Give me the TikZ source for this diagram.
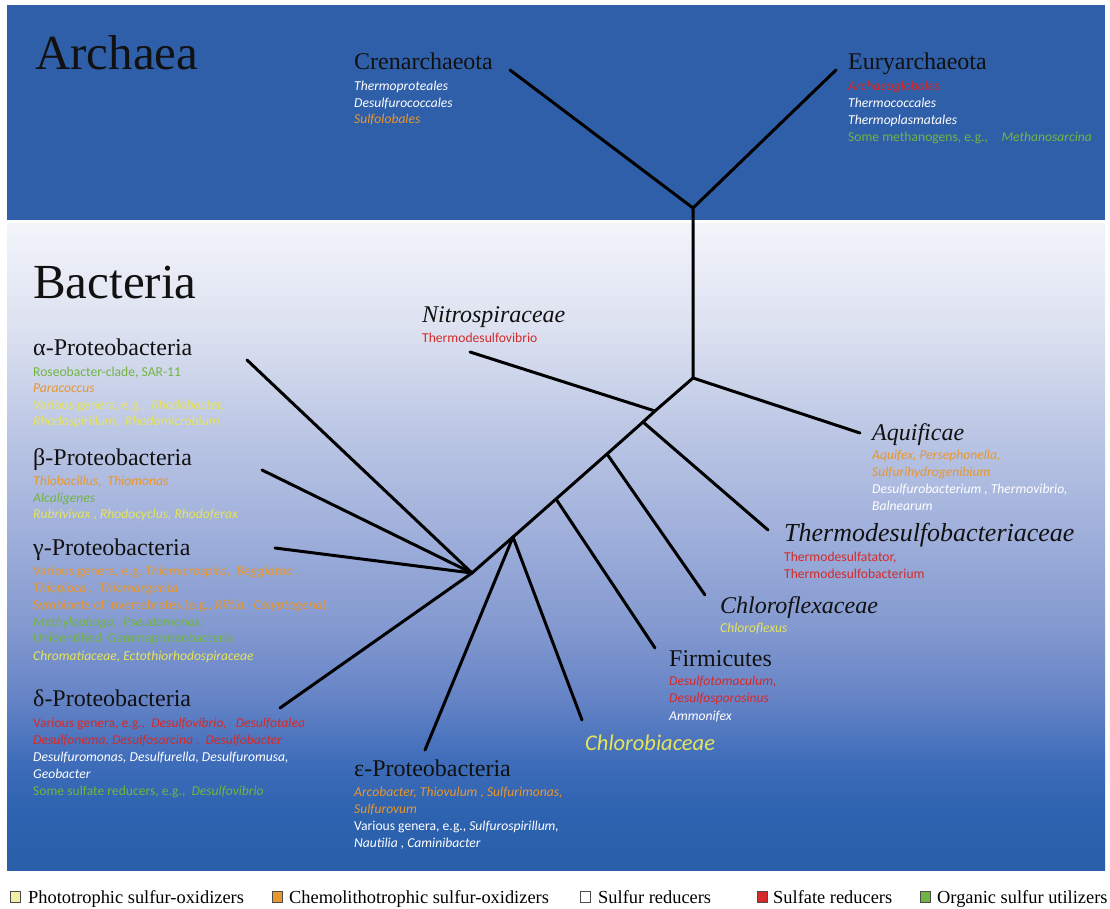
\documentclass[tikz,border=0pt]{standalone}
\usepackage{fontspec}
\setmainfont{Liberation Serif}
\newfontfamily\smallfam{Carlito}
\definecolor{archblue}{HTML}{2F5FA8}
\definecolor{cyel}{HTML}{E6E45A}
\definecolor{corg}{HTML}{E8962E}
\definecolor{cred}{HTML}{D42A2A}
\definecolor{cgrn}{HTML}{72B443}
\definecolor{cwht}{HTML}{FFFFFF}
\definecolor{headc}{HTML}{111111}
\definecolor{lyel}{HTML}{F2F0A0}
\definecolor{bgA}{HTML}{F2F4FA}
\definecolor{bgB}{HTML}{DCE1F0}
\definecolor{bgC}{HTML}{BCC7E5}
\definecolor{bgD}{HTML}{A0B0DB}
\definecolor{bgE}{HTML}{8298CF}
\definecolor{bgF}{HTML}{6483C6}
\definecolor{bgG}{HTML}{3F6DBA}
\definecolor{bgH}{HTML}{2D63B0}
\definecolor{bgI}{HTML}{2A5EA9}
\newcommand\hfont{\fontsize{24}{28}\selectfont}
\newcommand\bigfont{\fontsize{49}{56}\selectfont}
\newcommand\sfont{\smallfam\fontsize{13.6}{15}\selectfont}
\newcommand\legfont{\fontsize{18.4}{20}\selectfont}
\tikzset{
  head/.style={anchor=base west, font=\hfont, text=headc, inner sep=0pt},
  headit/.style={head, font=\hfont\itshape},
  big/.style={anchor=base west, font=\bigfont, text=headc, inner sep=0pt},
  sm/.style={anchor=base west, font=\sfont, inner sep=0pt},
  branch/.style={line width=3pt, line cap=round, line join=round, black},
  legbox/.style={draw=black!70, line width=0.8pt, minimum width=10pt, minimum height=11pt, inner sep=0pt, anchor=south west},
  legtext/.style={anchor=base west, font=\legfont, text=black, inner sep=0pt}
}
\begin{document}
\begin{tikzpicture}[x=1pt,y=-1pt]
\useasboundingbox (0,0) rectangle (1110,909);
\fill[white] (0,0) rectangle (1110,909);
% backgrounds
\fill[archblue] (7,5) rectangle (1105,220);
\fill[top color=bgA, bottom color=bgB] (7,224) rectangle (1105,330.5);
\fill[top color=bgB, bottom color=bgC] (7,330) rectangle (1105,430.5);
\fill[top color=bgC, bottom color=bgD] (7,430) rectangle (1105,530.5);
\fill[top color=bgD, bottom color=bgE] (7,530) rectangle (1105,630.5);
\fill[top color=bgE, bottom color=bgF] (7,630) rectangle (1105,700.5);
\fill[top color=bgF, bottom color=bgG] (7,700) rectangle (1105,760.5);
\fill[top color=bgG, bottom color=bgH] (7,760) rectangle (1105,810.5);
\fill[top color=bgH, bottom color=bgI] (7,810) rectangle (1105,870);

% tree coordinates
\coordinate (rA) at (693,208);
\coordinate (crenT) at (510,70);
\coordinate (euryT) at (836,70);
\coordinate (bR) at (693,378);
\coordinate (aquiT) at (860,433);
\coordinate (n1) at (655,411);
\coordinate (nitroT) at (470,352);
\coordinate (n2) at (643,422);
\coordinate (thermoT) at (768,530);
\coordinate (n3) at (607,454);
\coordinate (cflexT) at (705,595);
\coordinate (n4) at (556,499);
\coordinate (firmT) at (655,648);
\coordinate (n5) at (513,537);
\coordinate (cbiT) at (582,720);
\coordinate (epsT) at (425,750);
\coordinate (hub) at (472,573);
\coordinate (alphaT) at (247,360);
\coordinate (betaT) at (262,470);
\coordinate (gammaT) at (275,548);
\coordinate (deltaT) at (280,708);

\draw[branch] (crenT) -- (rA) -- (euryT);
\draw[branch] (rA) -- (bR) -- (aquiT);
\draw[branch] (bR) -- (n1) -- (n2) -- (n3) -- (n4) -- (n5) -- (hub);
\draw[branch] (nitroT) -- (n1);
\draw[branch] (n2) -- (thermoT);
\draw[branch] (n3) -- (cflexT);
\draw[branch] (n4) -- (firmT);
\draw[branch] (n5) -- (cbiT);
\draw[branch] (n5) -- (epsT);
\draw[branch] (alphaT) -- (hub);
\draw[branch] (betaT) -- (hub);
\draw[branch] (gammaT) -- (hub);
\draw[branch] (deltaT) -- (hub);

% big titles
\node[big] (archaea) at (35,70) {Archaea};
\node[big] (bacteria) at (33,298) {Bacteria};

% Crenarchaeota
\node[head] (cren) at (354,70) {Crenarchaeota};
\node[sm, text=cwht] (cren1) at (354,91) {\itshape Thermoproteales};
\node[sm, text=cwht] (cren2) at (354,107.5) {\itshape Desulfurococcales};
\node[sm, text=corg] (cren3) at (354,124) {\itshape Sulfolobales};

% Euryarchaeota
\node[head] (eury) at (848,70) {Euryarchaeota};
\node[sm, text=cred] (eury1) at (848,90.5) {\itshape Archaeoglobales};
\node[sm, text=cwht] (eury2) at (848,107.5) {\itshape Thermococcales};
\node[sm, text=cwht] (eury3) at (848,124.5) {\itshape Thermoplasmatales};
\node[sm, text=cgrn] (eury4) at (848,141.5) {Some methanogens, e.g.,\quad\itshape Methanosarcina};

% alpha
\node[head] (alpha) at (33,355) {α-Proteobacteria};
\node[sm, text=cgrn] (alpha1) at (33,376) {Roseobacter-clade, SAR-11};
\node[sm, text=corg] (alpha2) at (33,392.5) {\itshape Paracoccus};
\node[sm, text=cyel] (alpha3) at (33,409) {Various genera, e.g.,\ \ \itshape Rhodobacter,};
\node[sm, text=cyel] (alpha4) at (33,425.5) {\itshape Rhodospirillum,\ \ Rhodomicrobium};

% beta
\node[head] (beta) at (33,465) {β-Proteobacteria};
\node[sm, text=corg] (beta1) at (33,485.5) {\itshape Thiobacillus,\ \ Thiomonas};
\node[sm, text=cgrn] (beta2) at (33,502) {\itshape Alcaligenes};
\node[sm, text=cyel] (beta3) at (33,518.5) {\itshape Rubrivivax\ ,\ Rhodocyclus,\ Rhodoferax};

% gamma
\node[head] (gamma) at (33,555) {γ-Proteobacteria};
\node[sm, text=corg] (gamma1) at (33,575.5) {Various genera, e.g.,\itshape Thiomicrospira,\ \ Beggiatoa\ ,};
\node[sm, text=corg] (gamma2) at (33,592.5) {\itshape Thioploca\ ,\ \ Thiomargarita};
\node[sm, text=corg] (gamma3) at (33,609) {Symbionts of invertebrates (e.g., \textit{Riftia,\ \ Calyptogena})};
\node[sm, text=cgrn] (gamma4) at (33,626) {\itshape Methylophaga,\ \ Pseudomonas,};
\node[sm, text=cgrn] (gamma5) at (33,642.5) {Unidentified\ \ Gammaproteobacteria};
\node[sm, text=cyel] (gamma6) at (33,660) {\itshape Chromatiaceae,\ Ectothiorhodospiraceae};

% delta
\node[head] (delta) at (33,706) {δ-Proteobacteria};
\node[sm, text=cred] (delta1) at (33,727.5) {Various genera, e.g.,\ \ \itshape Desulfovibrio,\ \ \ Desulfotalea};
\node[sm, text=cred] (delta2) at (33,744.5) {\itshape Desulfonema,\ Desulfosarcina\ ,\ \ Desulfobacter};
\node[sm, text=cwht] (delta3) at (33,761.5) {\itshape Desulfuromonas,\ Desulfurella,\ Desulfuromusa,};
\node[sm, text=cwht] (delta4) at (33,778.5) {\itshape Geobacter};
\node[sm, text=cgrn] (delta5) at (33,795.5) {Some sulfate reducers, e.g.,\ \ \itshape Desulfovibrio};

% epsilon
\node[head] (eps) at (354,776) {ε-Proteobacteria};
\node[sm, text=corg] (eps1) at (354,796.5) {\itshape Arcobacter,\ Thiovulum\ ,\ Sulfurimonas,};
\node[sm, text=corg] (eps2) at (354,813) {\itshape Sulfurovum};
\node[sm, text=cwht] (eps3) at (354,830) {Various genera, e.g., \itshape Sulfurospirillum,};
\node[sm, text=cwht] (eps4) at (354,847) {\itshape Nautilia\ ,\ Caminibacter};

% Nitrospiraceae
\node[headit] (nitro) at (422,322) {Nitrospiraceae};
\node[sm, text=cred] (nitro1) at (422,342.5) {Thermodesulfovibrio};

% Aquificae
\node[headit] (aqui) at (872,440) {Aquificae};
\node[sm, text=corg] (aqui1) at (872,459.5) {\itshape Aquifex,\ Persephonella,};
\node[sm, text=corg] (aqui2) at (872,476.5) {\itshape Sulfurihydrogenibium};
\node[sm, text=cwht] (aqui3) at (872,493.5) {\itshape Desulfurobacterium\ ,\ Thermovibrio,};
\node[sm, text=cwht] (aqui4) at (872,510.5) {\itshape Balnearum};

% Thermodesulfobacteriaceae
\node[headit, font=\fontsize{26}{28}\selectfont\itshape] (thermo) at (784,541) {Thermodesulfobacteriaceae};
\node[sm, text=cred] (thermo1) at (784,561.5) {Thermodesulfatator,};
\node[sm, text=cred] (thermo2) at (784,578.5) {Thermodesulfobacterium};

% Chloroflexaceae
\node[headit] (cflex) at (720,613) {Chloroflexaceae};
\node[sm, text=cyel] (cflex1) at (720,632.5) {\itshape Chloroflexus};

% Firmicutes
\node[head] (firm) at (669,666) {Firmicutes};
\node[sm, text=cred] (firm1) at (669,685.5) {\itshape Desulfotomaculum,};
\node[sm, text=cred] (firm2) at (669,702.5) {\itshape Desulfosporosinus};
\node[sm, text=cwht] (firm3) at (669,720) {\itshape Ammonifex};

% Chlorobiaceae
\node[anchor=base west, inner sep=0pt, text=cyel, font=\smallfam\fontsize{22.5}{24}\selectfont\itshape] (cbi) at (585,750) {Chlorobiaceae};

% legend
\node[legbox, fill=lyel] (lb1) at (10,903) {};
\node[legtext] (lt1) at (28,903) {Phototrophic sulfur-oxidizers};
\node[legbox, fill=corg] (lb2) at (272,903) {};
\node[legtext] (lt2) at (289,903) {Chemolithotrophic sulfur-oxidizers};
\node[legbox, fill=white] (lb3) at (580,903) {};
\node[legtext] (lt3) at (598,903) {Sulfur reducers};
\node[legbox, fill=cred] (lb4) at (757,903) {};
\node[legtext] (lt4) at (773,903) {Sulfate reducers};
\node[legbox, fill=cgrn] (lb5) at (920,903) {};
\node[legtext] (lt5) at (937,903) {Organic sulfur utilizers};
\end{tikzpicture}
\end{document}
